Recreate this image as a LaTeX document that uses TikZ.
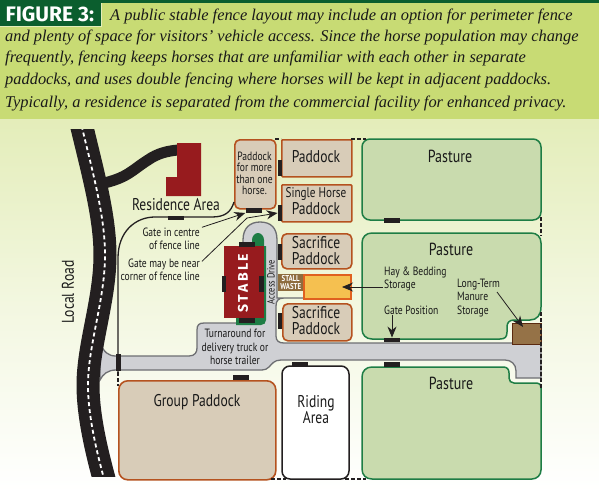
\documentclass[tikz,border=0pt]{standalone}
\usepackage{fontspec}
\usetikzlibrary{arrows.meta}
\setmainfont{Liberation Serif}
\newfontfamily\labelfont[FakeStretch=0.8]{PT Sans}
\newfontfamily\headfont{Fira Sans}
\definecolor{capgreen}{HTML}{C8DB74}
\definecolor{headgreen}{HTML}{0B5E2E}
\definecolor{fieldgreen}{HTML}{C9DBAE}
\definecolor{edgegreen}{HTML}{1E7D45}
\definecolor{tanfill}{HTML}{D8CCB8}
\definecolor{tanedge}{HTML}{B5521F}
\definecolor{roofred}{HTML}{971B1E}
\definecolor{roadgray}{HTML}{CFD0D4}
\definecolor{roadedge}{HTML}{6D6E72}
\definecolor{inkblack}{HTML}{231F20}
\definecolor{wastebrown}{HTML}{8E6C3E}
\definecolor{manurebrown}{HTML}{957247}
\definecolor{binyellow}{HTML}{F5C050}
\definecolor{binedge}{HTML}{E0601F}
\tikzset{
  paddockbox/.style={draw=tanedge, fill=tanfill, line width=1.6pt, rounded corners=#1, inner sep=0pt, anchor=north west},
  paddockbox/.default=2pt,
  caption/.style={anchor=base west, inner sep=0pt, font=\fontsize{16.4}{18}\selectfont\itshape, text=black!90},
  tag/.style={inner sep=0pt, text=black!90, font=\labelfont\fontsize{#1}{#1}\selectfont, align=center},
  note/.style={inner sep=0pt, text=black!90, font=\labelfont\fontsize{12}{13.3}\selectfont, align=left},
  gatebox/.style={fill=inkblack, inner sep=0pt, minimum width=#1},
  pointer/.style={draw=inkblack, line width=0.8pt, -{Stealth[length=11pt,width=9pt]}},
  fenceline/.style={draw=inkblack, line width=1.3pt},
  fencedash/.style={draw=inkblack, line width=1.6pt, dash pattern=on 3.5pt off 2.5pt}
}
\begin{document}
\begin{tikzpicture}[x=1pt, y=-1pt]
  \useasboundingbox (0, 0) rectangle (599, 492);
  % ground and caption band
  \shade[top color=capgreen!50!white, bottom color=white, middle color=capgreen!22!white] (0, 119) rectangle (599, 492);
  \fill[capgreen] (0, 0) rectangle (599, 119);
  \node[fill=headgreen, draw=capgreen!50!white, line width=0.6pt, text=white, font=\headfont\fontsize{21}{22}\selectfont\bfseries, inner sep=0pt, minimum width=103pt, minimum height=24pt, anchor=north west] (figtitle) at (-2, 2) {FIGURE 3:};
  \fill[headgreen] (0, 0) rectangle (599, 3);
  \node[caption] (line1) at (110, 21) {A public stable fence layout may include an option for perimeter fence};
  \node[caption] (line2) at (5, 42) {and plenty of space for visitors’ vehicle access. Since the horse population may change};
  \node[caption] (line3) at (5, 63) {frequently, fencing keeps horses that are unfamiliar with each other in separate};
  \node[caption] (line4) at (5, 85) {paddocks, and uses double fencing where horses will be kept in adjacent paddocks.};
  \node[caption] (line5) at (5, 107) {Typically, a residence is separated from the commercial facility for enhanced privacy.};
  % lanes
  \draw[fill=roadgray, draw=roadedge, line width=1.3pt] (100, 343) .. controls (104, 352) and (108, 356) .. (116, 356) -- (189, 356) .. controls (195, 356) and (197, 352) .. (197, 348) -- (197, 330) .. controls (197, 325) and (199, 323) .. (204, 323) -- (243, 323) -- (243, 240) .. controls (243, 228) and (250, 222) .. (260, 222) .. controls (271, 222) and (277, 228) .. (277, 240) -- (277, 298) -- (303, 298) -- (284, 298) .. controls (278, 298) and (276, 301) .. (276, 306) -- (276, 336) .. controls (276, 341) and (279, 343) .. (284, 343) -- (541, 343) -- (541, 378) -- (516, 378) -- (516, 371) .. controls (516, 364) and (511, 360) .. (505, 360) -- (281, 360) .. controls (274, 360) and (272, 364) .. (269, 367) .. controls (267, 369) and (265, 370) .. (262, 370) -- (116, 370) .. controls (108, 370) and (103, 374) .. (100, 380) -- cycle;
  % road and driveway
  \draw[inkblack, line width=11pt] (100, 184) .. controls (128, 178) and (132, 170) .. (148, 160) .. controls (158, 153) and (168, 151) .. (178, 150);
  \begin{scope}
    \clip (60, 129) rectangle (130, 476);
    \draw[inkblack, line width=23pt] (80, 119) .. controls (92, 170) and (105, 215) .. (105, 255) .. controls (105, 300) and (88, 345) .. (88, 385) .. controls (88, 415) and (96, 450) .. (106, 486);
    \draw[white, line width=1.8pt, dash pattern=on 4pt off 3pt] (80, 119) .. controls (92, 170) and (105, 215) .. (105, 255) .. controls (105, 300) and (88, 345) .. (88, 385) .. controls (88, 415) and (96, 450) .. (106, 486);
  \end{scope}
  % paddocks and fields
  \node[paddockbox=5pt, minimum width=41pt, minimum height=69pt] (morebox) at (234, 139) {};
  \node[paddockbox=1pt, minimum width=70pt, minimum height=37pt] (paddockone) at (281, 139) {};
  \node[paddockbox=1pt, minimum width=70pt, minimum height=37pt] (singlebox) at (281, 184) {};
  \node[paddockbox=5pt, minimum width=70pt, minimum height=35pt] (sacrificeone) at (281, 233) {};
  \node[paddockbox=5pt, minimum width=69pt, minimum height=37pt] (sacrificetwo) at (282, 303) {};
  \node[paddockbox=9pt, minimum width=157pt, minimum height=99pt] (groupbox) at (118, 380) {};
  \draw[fill=white, draw=inkblack, line width=1.5pt, rounded corners=8pt] (282, 366) rectangle (349, 479);
  \draw[fill=fieldgreen, draw=edgegreen, line width=1.5pt, rounded corners=8pt] (362, 139) rectangle (541, 220);
  \draw[fill=fieldgreen, draw=edgegreen, line width=1.5pt] (372, 233) -- (531, 233) .. controls (537, 233) and (541, 237) .. (541, 243) -- (541, 307) .. controls (541, 315) and (537, 320) .. (530, 320) -- (514, 320) .. controls (509, 320) and (507, 323) .. (507, 327) -- (507, 332) .. controls (507, 337) and (505, 339) .. (500, 339) -- (372, 339) .. controls (366, 339) and (362, 335) .. (362, 329) -- (362, 243) .. controls (362, 237) and (366, 233) .. (372, 233) -- cycle;
  \draw[fill=fieldgreen, draw=edgegreen, line width=1.5pt] (372, 367) -- (503, 367) .. controls (507, 367) and (509, 369) .. (509, 373) -- (509, 378) .. controls (509, 381) and (511, 383) .. (514, 383) -- (537, 383) .. controls (540, 383) and (541, 385) .. (541, 388) -- (541, 470) .. controls (541, 475) and (537, 479) .. (532, 479) -- (372, 479) .. controls (366, 479) and (362, 475) .. (362, 469) -- (362, 377) .. controls (362, 371) and (366, 367) .. (372, 367) -- cycle;
  % buildings
  \fill[edgegreen] (252, 246) -- (252, 240) .. controls (252, 236) and (255, 233) .. (258, 233) .. controls (261, 233) and (264, 236) .. (264, 240) -- (264, 246) -- (266, 246) -- (266, 320) .. controls (266, 323) and (264, 325) .. (261, 325) -- (236, 325) -- (236, 246) -- cycle;
  \fill[roofred] (177, 143) -- (201, 143) -- (201, 196) -- (166, 196) -- (166, 177) -- (177, 177) -- cycle;
  \node[fill=roofred, inner sep=0pt, minimum width=40pt, minimum height=72pt, anchor=north west] (stable) at (224, 246) {};
  \node[fill=binyellow, draw=binedge, line width=1.5pt, inner sep=0pt, minimum width=47pt, minimum height=24pt, anchor=north west] (binbox) at (303, 274) {};
  \node[fill=wastebrown, inner sep=0pt, minimum width=25pt, minimum height=17pt, anchor=north west, text=white, font=\labelfont\bfseries\fontsize{8.5}{8.2}\selectfont, align=center] (wastetag) at (278, 274) {STALL\\WASTE};
  \node[fill=manurebrown, draw=tanedge!50!black, line width=1.4pt, inner sep=0pt, minimum width=29pt, minimum height=21pt, anchor=north west] (manurebox) at (512, 323) {};
  % fence lines
  \draw[fenceline] (118, 372) -- (118, 258) .. controls (118, 232) and (135, 217) .. (155, 217) -- (212, 217) .. controls (225, 217) and (231, 212) .. (234, 202);
  \draw[fencedash] (118, 372) -- (118, 386);
  \draw[fencedash] (275, 139) -- (281, 139);
  \draw[fencedash] (351, 139) -- (366, 139);
  \draw[fencedash] (541, 217) -- (541, 236);
  \draw[fencedash] (541, 312) -- (541, 388);
  \draw[fencedash] (271, 479) -- (286, 479);
  \draw[fencedash] (345, 479) -- (366, 479);
  % gates
  \foreach \gname/\gx/\gy in {gatefence/176/218, gatemore/253.5/210.5, gatestabletop/246.5/244.5, gatestablelow/246.5/320.5, gategroup/241/377.5, gateride/299.5/364.5, gatepastureone/392/220.5, gatepasturetwo/392/340, gatepasturelow/392/364.5}
    \node[gatebox=16pt, minimum height=4.5pt] (\gname) at (\gx, \gy) {};
  \foreach \gname/\gx/\gy in {gatepaddock/280/168, gatesingle/280/213, gatesacone/280/251.5, gatesactwo/280/320.5, gatestableleft/224/283.5, gatestableright/261.5/283.5}
    \node[gatebox=4.5pt, minimum height=16pt] (\gname) at (\gx, \gy) {};
  \node[gatebox=5pt, minimum height=17pt] (gateroad) at (118, 362.5) {};
  % labels
  \node[tag=12] (moretext) at (254.5, 173.5) {Paddock\\[-0.5pt]for more\\[-0.5pt]than one\\[-0.5pt]horse.};
  \node[tag=17] (paddocktext) at (316, 157) {Paddock};
  \node[tag=14] (singletext) at (316, 194) {Single Horse};
  \node[tag=17] (singletextb) at (316, 209) {Paddock};
  \node[tag=17] (sactext) at (316, 251) {Sacrifice\\[-1pt]Paddock};
  \node[tag=17] (sactextb) at (316, 321) {Sacrifice\\[-1pt]Paddock};
  \node[tag=17] (restext) at (176, 205) {Residence Area};
  \node[tag=17, rotate=90] (roadtext) at (68, 292) {Local Road};
  \node[tag=10.5, rotate=90] (drivetext) at (271, 282) {Access Drive};
  \node[inner sep=0pt, text=white, rotate=90, font=\headfont\bfseries\fontsize{14}{14}\selectfont] (stabletext) at (243, 283) {S\,T\,A\,B\,L\,E};
  \node[note, align=center, anchor=center] (turntext) at (235, 347) {Turnaround for\\delivery truck or\\horse trailer};
  \node[note, align=right, anchor=east] (centretext) at (200, 238.5) {Gate in centre\\of fence line};
  \node[note, align=right, anchor=east] (neartext) at (200, 269.5) {Gate may be near\\corner of fence line};
  \node[note, anchor=west] (haytext) at (384, 279) {Hay \& Bedding\\Storage};
  \node[note, anchor=west] (gatetext) at (384, 310) {Gate Position};
  \node[note, anchor=west] (longtext) at (457, 298) {Long-Term\\Manure\\Storage};
  \node[tag=17.5] (pastureone) at (450, 156) {Pasture};
  \node[tag=17.5] (pasturetwo) at (451, 249) {Pasture};
  \node[tag=17.5] (pasturelow) at (451, 383) {Pasture};
  \node[tag=17] (grouptext) at (197, 402) {Group Paddock};
  \node[tag=17] (ridetext) at (316, 410) {Riding\\[-1pt]Area};
  % pointers
  \coordinate (nearbend) at (247, 218);
  \coordinate (haystart) at (383, 287);
  \coordinate (bintip) at (342, 287);
  \coordinate (longstart) at (497, 292);
  \coordinate (manuretip) at (523, 327);
  \draw[pointer] ([xshift=2pt]centretext.north east) -- (gatemore.south west);
  \draw[pointer] ([xshift=2pt, yshift=-3pt]neartext.north east) -- (nearbend) -- (gatesingle.west);
  \draw[pointer] (haystart) -- (bintip);
  \draw[pointer] (gatetext.south west -| gatepasturetwo) -- (gatepasturetwo.north);
  \draw[pointer] (longstart) -- (manuretip);
\end{tikzpicture}
\end{document}
